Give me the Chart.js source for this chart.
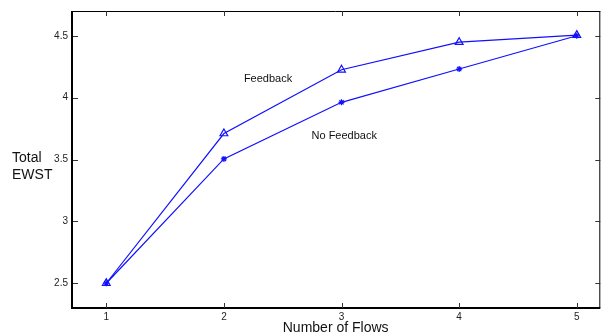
<!DOCTYPE html>
<html>
<head>
<meta charset="utf-8">
<script src="https://cdn.jsdelivr.net/npm/chart.js@4"></script>
<style>
html,body{margin:0;padding:0;background:#fff;overflow:hidden;}
#wrap{width:601px;height:335px;overflow:hidden;position:relative;}
canvas{display:block;}
</style>
</head>
<body>
<div id="wrap"><canvas id="c" width="606" height="335"></canvas></div>
<script>
const flows = [1, 2, 3, 4, 5];
const feedback = [2.5, 3.71, 4.225, 4.448, 4.505];
const noFeedback = [2.5, 3.505, 3.962, 4.231, 4.5];
const xTicks = [1, 2, 3, 4, 5];
const yTicks = [2.5, 3, 3.5, 4, 4.5];
const xRange = [0.7, 5.2];
const yRange = [2.3, 4.7];

const FONT = '"Liberation Sans", Arial, Helvetica, sans-serif';
const BLUE = '#1010ff';

const framePlugin = {
  id: 'frame',
  afterDraw(chart) {
    const {ctx, chartArea: a, scales: {x, y}} = chart;
    ctx.save();
    ctx.strokeStyle = '#000';
    ctx.lineWidth = 1;
    ctx.beginPath();
    ctx.moveTo(a.left, a.top + 0.5); ctx.lineTo(a.right, a.top + 0.5);
    ctx.moveTo(a.right - 0.5, a.top); ctx.lineTo(a.right - 0.5, a.bottom);
    ctx.stroke();
    ctx.lineWidth = 2;
    ctx.beginPath();
    ctx.moveTo(a.left + 1, a.top); ctx.lineTo(a.left + 1, a.bottom + 1);
    ctx.moveTo(a.left, a.bottom); ctx.lineTo(a.right, a.bottom);
    ctx.stroke();
    ctx.lineWidth = 1;
    ctx.strokeStyle = '#333';
    ctx.beginPath();
    const L = 5;
    xTicks.forEach(v => {
      const px = Math.round(x.getPixelForValue(v)) + 0.5;
      ctx.moveTo(px, a.bottom); ctx.lineTo(px, a.bottom - L);
      ctx.moveTo(px, a.top); ctx.lineTo(px, a.top + L);
    });
    yTicks.forEach(v => {
      const py = Math.round(y.getPixelForValue(v)) + 0.5;
      ctx.moveTo(a.left + 2, py); ctx.lineTo(a.left + 2 + L, py);
      ctx.moveTo(a.right, py); ctx.lineTo(a.right - L, py);
    });
    ctx.stroke();
    ctx.fillStyle = '#111';
    ctx.font = '14px ' + FONT;
    ctx.textBaseline = 'middle';
    ctx.textAlign = 'left';
    ctx.fillText('Total', 12, 158);
    ctx.fillText('EWST', 12, 175);
    ctx.font = '11px ' + FONT;
    ctx.fillText('Feedback', x.getPixelForValue(2.17), y.getPixelForValue(4.15));
    ctx.fillText('No Feedback', x.getPixelForValue(3.0) - 30, y.getPixelForValue(3.69));
    ctx.restore();
  }
};

new Chart(document.getElementById('c'), {
  type: 'line',
  data: {
    datasets: [
      {
        label: 'Feedback',
        data: flows.map((f, i) => ({x: f, y: feedback[i]})),
        borderColor: BLUE,
        borderWidth: 1.2,
        pointStyle: 'triangle',
        pointRadius: 4.5,
        pointBorderColor: BLUE,
        pointBackgroundColor: 'rgba(0,0,0,0)',
        pointBorderWidth: 1.2,
        tension: 0,
        fill: false
      },
      {
        label: 'No Feedback',
        data: flows.map((f, i) => ({x: f, y: noFeedback[i]})),
        borderColor: BLUE,
        borderWidth: 1.2,
        pointStyle: 'star',
        pointRadius: 3,
        pointBorderColor: BLUE,
        pointBackgroundColor: BLUE,
        pointBorderWidth: 1.2,
        tension: 0,
        fill: false
      }
    ]
  },
  options: {
    responsive: false,
    animation: false,
    devicePixelRatio: 1,
    layout: {padding: {left: 0, top: 11, right: 3, bottom: 0}},
    plugins: {legend: {display: false}, tooltip: {enabled: false}},
    scales: {
      x: {
        type: 'linear',
        min: xRange[0], max: xRange[1],
        afterBuildTicks: s => { s.ticks = xTicks.map(v => ({value: v})); },
        afterFit: s => { s.height = 27; },
        grid: {display: false, drawTicks: false},
        border: {display: false},
        ticks: {font: {size: 10, family: FONT}, color: '#222', padding: 3, maxRotation: 0, autoSkip: false,
                callback: v => String(v)},
        title: {display: true, text: 'Number of Flows', font: {size: 14, family: FONT}, color: '#111',
                padding: {top: 0, bottom: -2}}
      },
      y: {
        type: 'linear',
        min: yRange[0], max: yRange[1],
        afterBuildTicks: s => { s.ticks = yTicks.map(v => ({value: v})); },
        afterFit: s => { s.width = 71; },
        grid: {display: false, drawTicks: false},
        border: {display: false},
        ticks: {font: {size: 10, family: FONT}, color: '#222', padding: 3, autoSkip: false,
                callback: v => String(v)}
      }
    }
  },
  plugins: [framePlugin]
});
</script>
</body>
</html>
